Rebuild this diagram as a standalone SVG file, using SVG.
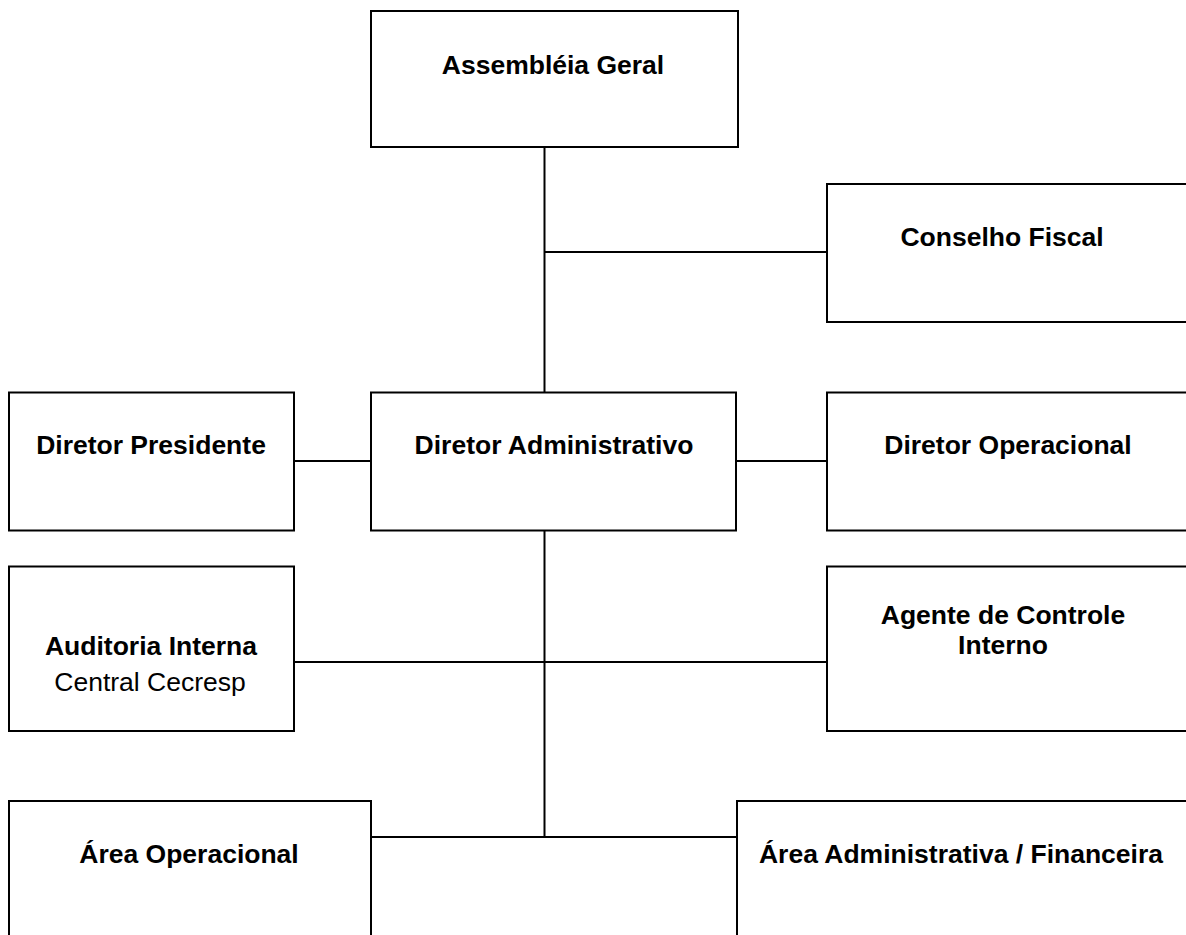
<svg xmlns="http://www.w3.org/2000/svg" width="1186" height="935" viewBox="0 0 1186 935">
  <style>
    .box { fill: #ffffff; stroke: #000000; stroke-width: 2; }
    .link { fill: none; stroke: #000000; stroke-width: 2; }
    .lbl { font-family: "Liberation Sans", Arial, sans-serif; font-size: 26.5px; font-weight: bold; fill: #000000; text-anchor: middle; }
    .sub { font-family: "Liberation Sans", Arial, sans-serif; font-size: 26.5px; font-weight: normal; fill: #000000; text-anchor: middle; }
  </style>
  <rect width="1186" height="935" fill="#ffffff"/>

  <!-- connectors -->
  <g id="connectors">
    <path class="link" d="M544.5,147 V392.5"/>
    <path class="link" d="M544.5,252 H827"/>
    <path class="link" d="M294,461 H371"/>
    <path class="link" d="M736,461 H827"/>
    <path class="link" d="M544.5,531 V837"/>
    <path class="link" d="M294,662 H827"/>
    <path class="link" d="M371,837 H737"/>
  </g>

  <g id="assembleia-geral">
    <rect class="box" x="371" y="11" width="367" height="136"/>
    <text class="lbl" x="553" y="73.5">Assembléia Geral</text>
  </g>

  <g id="conselho-fiscal">
    <rect class="box" x="827" y="184" width="370" height="138"/>
    <text class="lbl" x="1002" y="246">Conselho Fiscal</text>
  </g>

  <g id="diretor-presidente">
    <rect class="box" x="9" y="392.5" width="285" height="138"/>
    <text class="lbl" x="151" y="454">Diretor Presidente</text>
  </g>

  <g id="diretor-administrativo">
    <rect class="box" x="371" y="392.5" width="365" height="138"/>
    <text class="lbl" x="554" y="454">Diretor Administrativo</text>
  </g>

  <g id="diretor-operacional">
    <rect class="box" x="827" y="392.5" width="370" height="138"/>
    <text class="lbl" x="1008" y="454">Diretor Operacional</text>
  </g>

  <g id="auditoria-interna">
    <rect class="box" x="9" y="566.5" width="285" height="164.5"/>
    <text class="lbl" x="151" y="655">Auditoria Interna</text>
    <text class="sub" x="150" y="690.5">Central Cecresp</text>
  </g>

  <g id="agente-controle-interno">
    <rect class="box" x="827" y="566.5" width="370" height="164.5"/>
    <text class="lbl" x="1003" y="624">Agente de Controle</text>
    <text class="lbl" x="1003" y="654">Interno</text>
  </g>

  <g id="area-operacional">
    <rect class="box" x="9" y="801" width="362" height="150"/>
    <text class="lbl" x="189" y="863">Área Operacional</text>
  </g>

  <g id="area-administrativa-financeira">
    <rect class="box" x="737" y="801" width="460" height="150"/>
    <text class="lbl" x="961" y="863">Área Administrativa / Financeira</text>
  </g>
</svg>
